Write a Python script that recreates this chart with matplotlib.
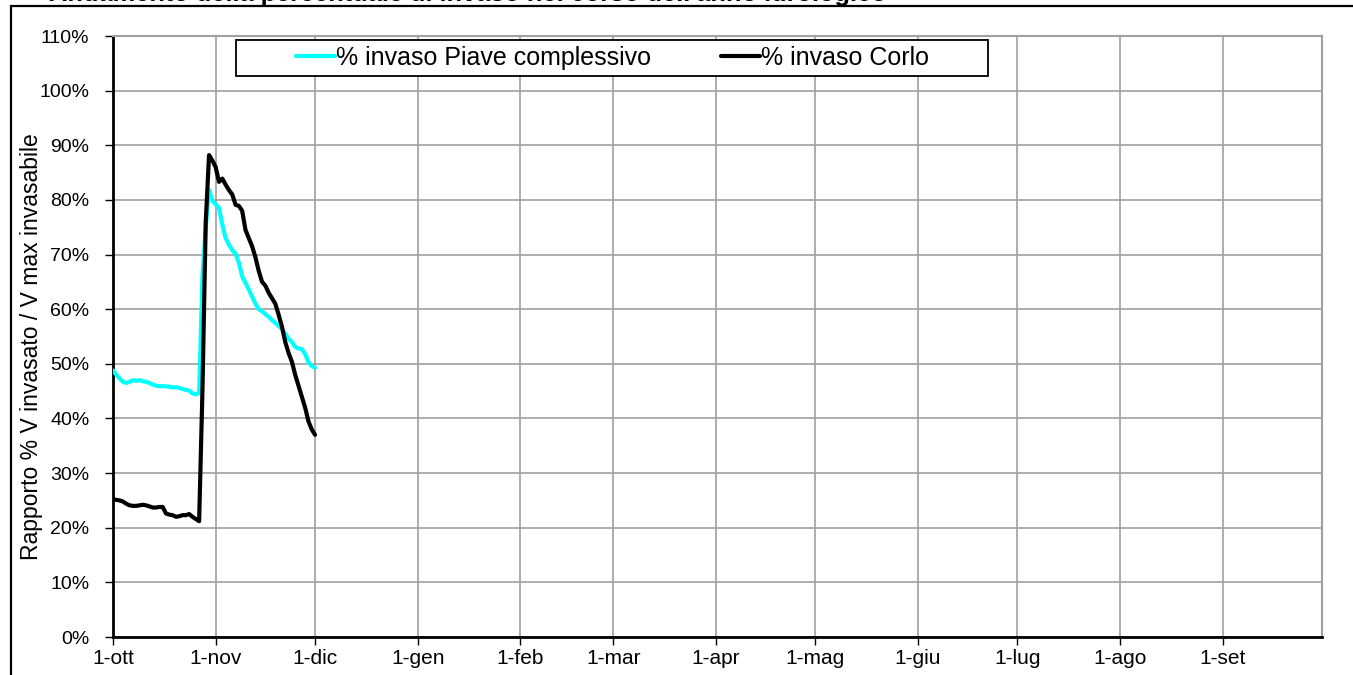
import matplotlib
matplotlib.use("Agg")
import matplotlib.pyplot as plt
from matplotlib.patches import Rectangle

plt.rcParams['font.family'] = ['Liberation Sans', 'DejaVu Sans']

title = "Andamento della percentuale di invaso nel corso dell'anno idrologico"
ylabel = "Rapporto % V invasato / V max invasabile"
month_days = [0, 31, 61, 92, 123, 151, 182, 212, 243, 273, 304, 335]
month_labels = ["1-ott", "1-nov", "1-dic", "1-gen", "1-feb", "1-mar", "1-apr",
                "1-mag", "1-giu", "1-lug", "1-ago", "1-set"]
ytick_vals = list(range(0, 111, 10))

# daily values from 1-ott (day 0) to 1-dic (day 61)
piave = [48.8, 48.0, 47.3, 46.7, 46.5, 46.7, 47.0, 46.9, 47.0, 46.8,
         46.7, 46.5, 46.2, 46.0, 45.9, 45.9, 45.9, 45.8, 45.7, 45.7,
         45.6, 45.4, 45.2, 45.1, 44.6, 44.4, 44.7, 66.0, 75.0, 81.8,
         79.8, 79.2, 78.5, 75.5, 73.0, 71.8, 70.8, 70.2, 68.5, 66.0,
         64.8, 63.6, 62.3, 61.0, 60.0, 59.6, 59.1, 58.6, 58.0, 57.5,
         56.9, 56.4, 55.5, 54.6, 54.0, 53.1, 52.8, 52.7, 51.8, 50.3,
         49.6, 49.3]
corlo = [25.2, 25.1, 25.0, 24.8, 24.4, 24.1, 24.0, 24.0, 24.1, 24.2,
         24.1, 23.9, 23.7, 23.7, 23.8, 23.8, 22.6, 22.4, 22.3, 22.0,
         22.1, 22.3, 22.3, 22.5, 22.0, 21.6, 21.2, 45.0, 76.0, 88.2,
         87.2, 86.0, 83.3, 83.9, 82.8, 81.8, 81.0, 79.1, 78.9, 78.0,
         74.5, 73.0, 71.5, 69.5, 67.0, 65.0, 64.3, 63.0, 62.0, 61.0,
         59.0, 56.8, 54.0, 52.0, 50.4, 48.0, 46.0, 44.0, 42.0, 39.5,
         38.0, 37.0]
days = list(range(len(piave)))

W, H = 1353, 675
fig = plt.figure(figsize=(W / 100, H / 100), dpi=100)
L, R, T, B = 113, 1322, 36, 637
ax = fig.add_axes([L / W, 1 - B / H, (R - L) / W, (B - T) / H])


def ax_x(px):
    return (px - L) / (R - L)


def ax_y(py):
    return (B - py) / (B - T)


# outer frame (partly cut off)
fig.patches.append(Rectangle((11 / W, -0.5), 2.0, 1.5 - 6 / H,
                             transform=fig.transFigure, fill=False,
                             edgecolor='black', linewidth=1.6))
fig.text(49 / W, 1 - 0.8 / H, title, fontsize=18.3, fontweight='bold',
         va='baseline', ha='left')

ax.plot(days, piave, color='#00FFFF', lw=3, label='% invaso Piave complessivo',
        solid_joinstyle='round', solid_capstyle='round', zorder=3)
ax.plot(days, corlo, color='black', lw=3, label='% invaso Corlo',
        solid_joinstyle='round', solid_capstyle='round', zorder=3)

ax.set_xlim(0, 365)
ax.set_ylim(0, 110)
ax.set_xticks(month_days)
ax.set_xticklabels(month_labels, fontsize=15)
ax.set_yticks(ytick_vals)
ax.set_yticklabels([f"{v}%" for v in ytick_vals], fontsize=14)
ax.tick_params(axis='both', direction='out', length=6, width=1, color='black')
ax.tick_params(axis='y', pad=11)
ax.tick_params(axis='x', pad=3)
ax.grid(True, color='#a0a0a0', lw=1.2)
ax.set_axisbelow(True)
for s in ['top', 'right']:
    ax.spines[s].set_color('#a0a0a0')
    ax.spines[s].set_linewidth(1.5)
for s in ['left', 'bottom']:
    ax.spines[s].set_color('black')
    ax.spines[s].set_linewidth(2)

fig.text(32 / W, 1 - 347 / H, ylabel, fontsize=16.5, rotation=90,
         ha='center', va='center')

# legend box and entries
ax.add_patch(Rectangle((ax_x(236), ax_y(76)), ax_x(988) - ax_x(236),
                       ax_y(40) - ax_y(76), transform=ax.transAxes,
                       facecolor='white', edgecolor='black', lw=1.3, zorder=5))
leg = ax.legend(loc='center left', ncol=2,
                bbox_to_anchor=(ax_x(296), ax_y(58)),
                fontsize=18, frameon=False, handlelength=1.55,
                handletextpad=0.05, borderpad=0, columnspacing=2.8,
                borderaxespad=0)
leg.set_zorder(6)

fig.savefig("out.png", dpi=100)
